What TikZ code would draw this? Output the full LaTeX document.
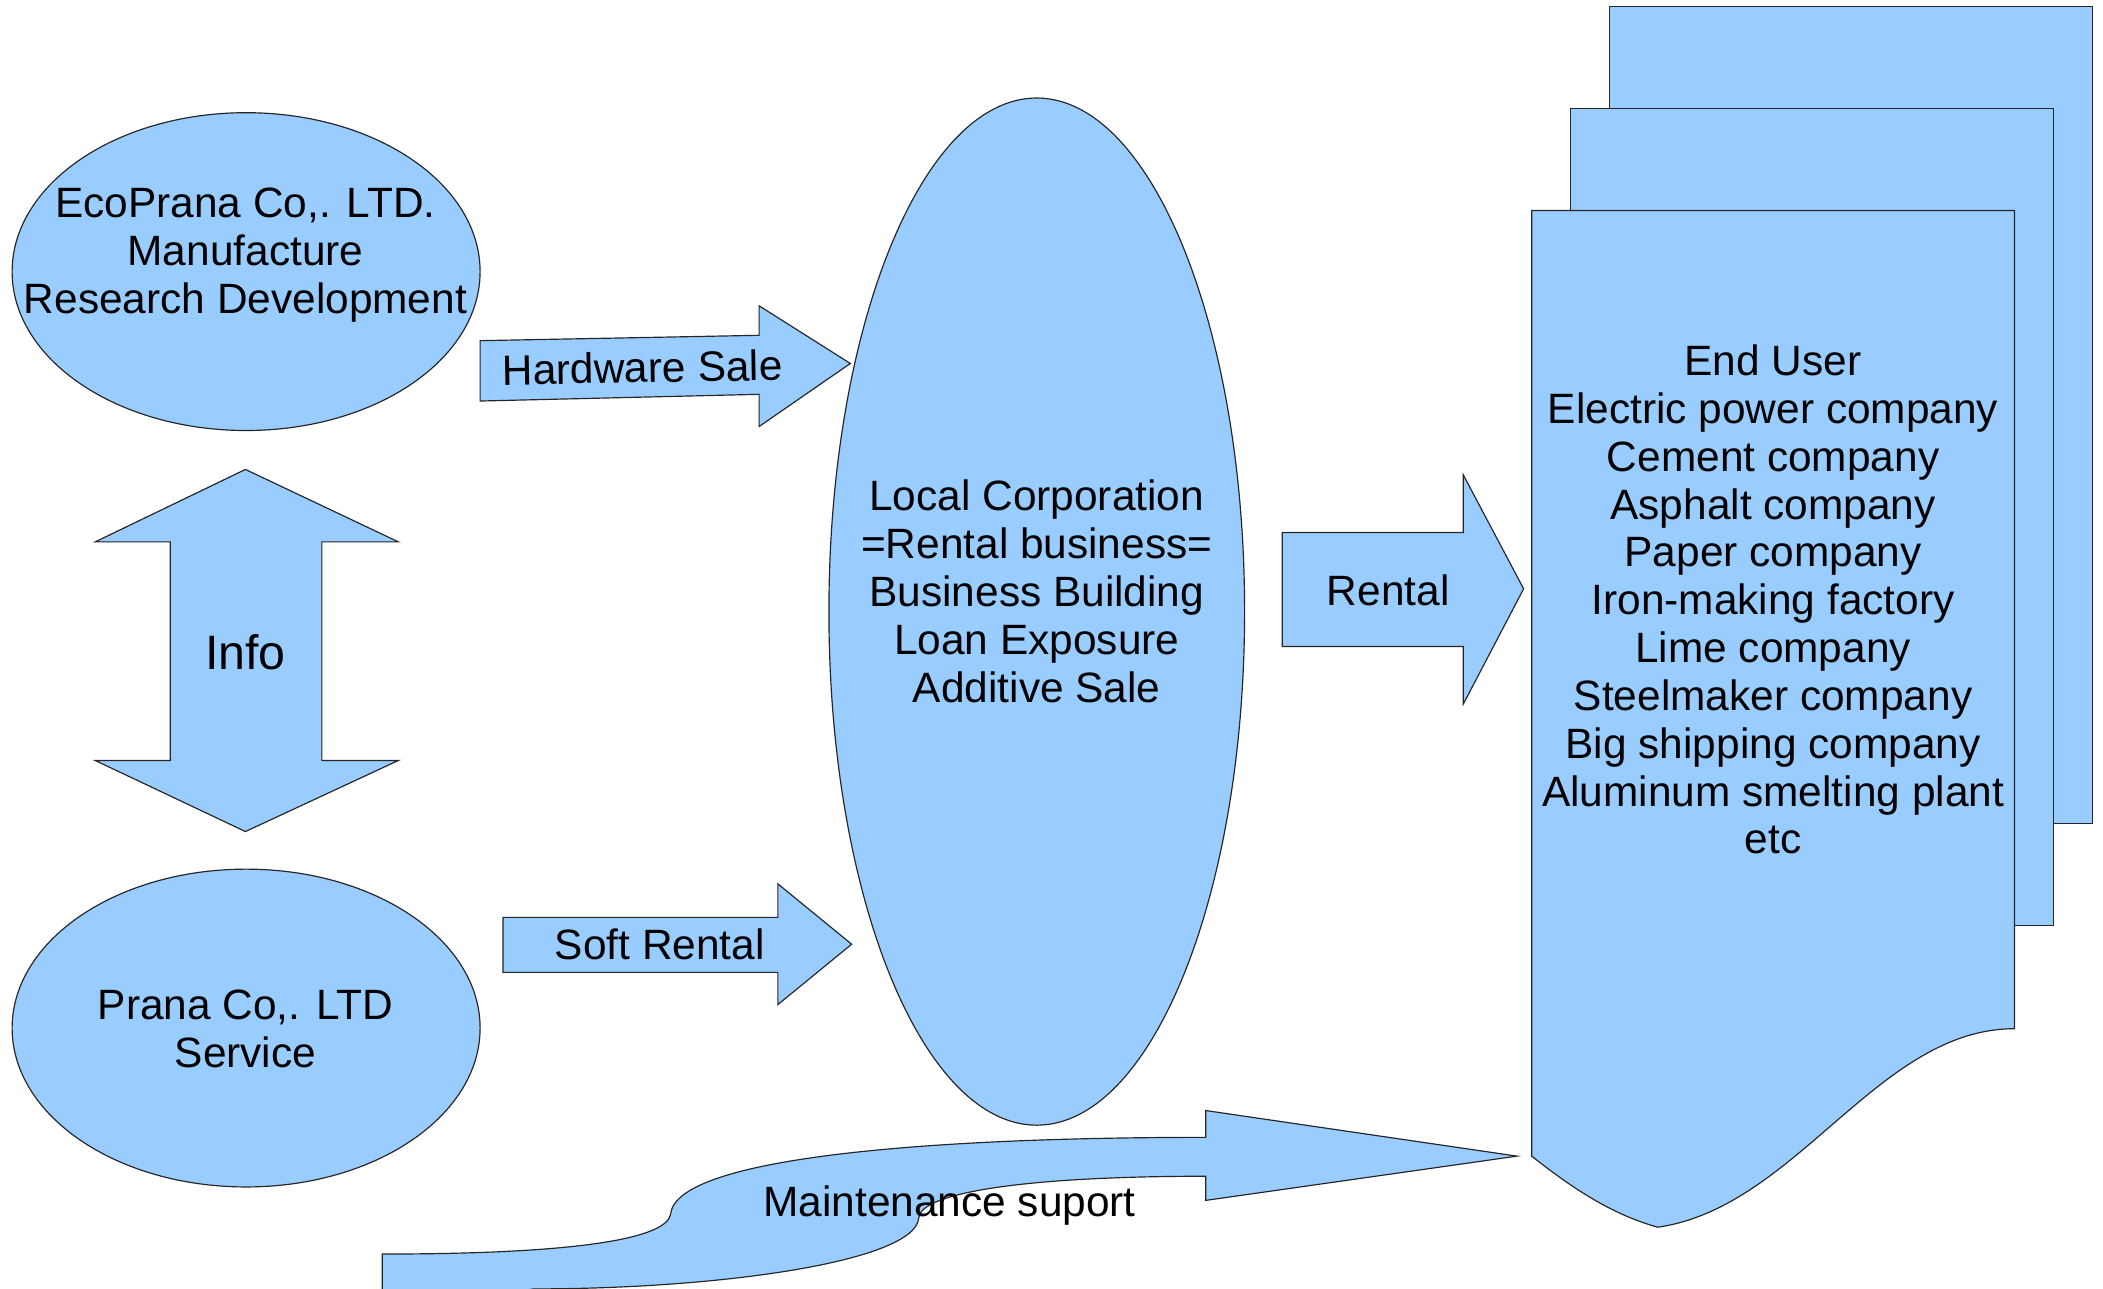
\documentclass[tikz,border=0pt]{standalone}
\usepackage{fontspec}
\setmainfont{Liberation Sans}
\definecolor{fillblue}{RGB}{153,204,255}
\begin{document}
\begin{tikzpicture}[x=0.02cm,y=-0.02cm,
  blueshape/.style={draw=black!85,line width=0.5pt,fill=fillblue},
  lbl/.style={font=\fontsize{18}{20.3}\selectfont,align=center,inner sep=0pt}]
\useasboundingbox (0,0) rectangle (1568,961);
% ellipses
\coordinate (ecoc) at (183.5,202.5);
\coordinate (pranac) at (183.5,766.5);
\coordinate (localc) at (773,456);
\draw[blueshape] (ecoc) ellipse [x radius=3.49cm, y radius=2.37cm];
\draw[blueshape] (pranac) ellipse [x radius=3.49cm, y radius=2.37cm];
\draw[blueshape] (localc) ellipse [x radius=3.1cm, y radius=7.66cm];
% info double arrow
\draw[blueshape] (183,350) -- (297,404) -- (240,404) -- (240,567) -- (297,567) -- (183,620)
  -- (71,567) -- (127,567) -- (127,404) -- (71,404) -- cycle;
% hardware sale arrow
\draw[blueshape] (358,254) -- (566,250) -- (566,228) -- (634,271) -- (566,318) -- (566,294) -- (358,299) -- cycle;
% soft rental arrow
\draw[blueshape] (375,684) -- (580,684) -- (580,659) -- (635,704) -- (580,749) -- (580,725) -- (375,725) -- cycle;
% rental arrow
\draw[blueshape] (956,397) -- (1091,397) -- (1091,354) -- (1136,439) -- (1091,525) -- (1091,482) -- (956,482) -- cycle;
% documents
\draw[blueshape] (1200,5) rectangle (1560,614);
\draw[blueshape] (1171,81) rectangle (1531,690);
\draw[blueshape] (1142,157) -- (1502,157) -- (1502,767)
  .. controls (1400,767) and (1340,900) .. (1236,915)
  .. controls (1200,905) and (1170,884) .. (1142,862) -- cycle;
% maintenance curved arrow
\draw[blueshape] (285,970) -- (285,935)
  .. controls (440,935) and (498,922) .. (500,905)
  .. controls (505,862) and (700,848) .. (899,848)
  -- (899,828) -- (1131,862) -- (899,895) -- (899,877)
  .. controls (760,877) and (686,890) .. (685,908)
  .. controls (683,940) and (540,961) .. (398,961)
  -- (340,970) -- cycle;
% texts
\node[lbl] (ecot) at (183,190) {EcoPrana Co,. LTD.\\Manufacture\\Research Development};
\node[lbl] (pranat) at (183,767) {Prana Co,. LTD\\Service};
\node[lbl,font=\fontsize{20.5}{24}\selectfont] (info) at (183,486) {Info};
\node[lbl,rotate=1] (hw) at (479,274) {Hardware Sale};
\node[lbl] (soft) at (492,704) {Soft Rental};
\node[lbl] (localt) at (773,441) {Local Corporation\\=Rental business=\\Business Building\\Loan Exposure\\Additive Sale};
\node[lbl] (rent) at (1035,440) {Rental};
\node[lbl] (endt) at (1322,447) {End User\\Electric power company\\Cement company\\Asphalt company\\Paper company\\Iron-making factory\\Lime company\\Steelmaker company\\Big shipping company\\Aluminum smelting plant\\etc};
\node[lbl] (maint) at (708,899) {Maintenance suport};
\end{tikzpicture}
\end{document}
